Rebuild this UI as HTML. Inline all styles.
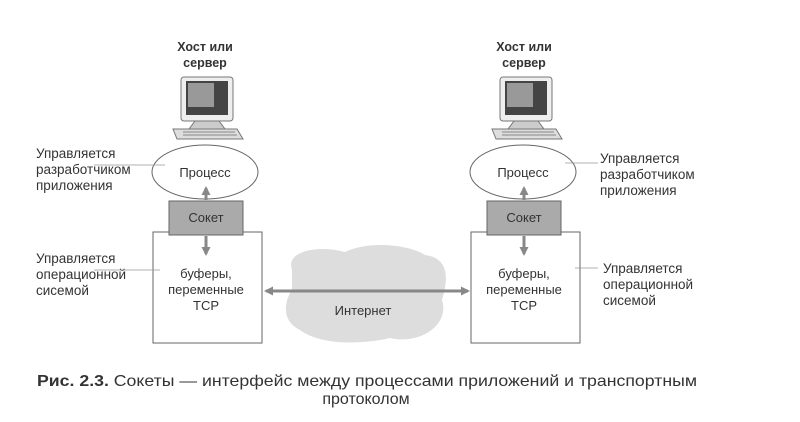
<!DOCTYPE html>
<html><head><meta charset="utf-8"><style>
body{margin:0;background:#fff;width:800px;height:417px;overflow:hidden}
text{font-family:"Liberation Sans",sans-serif;fill:#333}
</style></head><body>
<svg width="800" height="417" viewBox="0 0 800 417">
<defs>
<marker id="a" markerWidth="9" markerHeight="9" refX="7" refY="4.5" orient="auto-start-reverse" markerUnits="userSpaceOnUse"><path d="M0,0 L9,4.5 L0,9 Z" fill="#888"/></marker>
<g id="pc">
<rect x="0" y="0" width="52" height="44" rx="3" fill="#eee" stroke="#777"/>
<rect x="5" y="4" width="42" height="34" fill="#444"/>
<rect x="7" y="6" width="26" height="24" fill="#999"/>
<path d="M14,44 L38,44 L44,52 L8,52 Z" fill="#ccc" stroke="#777"/>
<path d="M-8,52 L56,52 L62,62 L-4,62 Z" fill="#ddd" stroke="#777"/>
<line x1="2" y1="55" x2="54" y2="55" stroke="#888"/><line x1="2" y1="58" x2="56" y2="58" stroke="#888"/>
</g>
</defs>
<text x="205" y="51" font-size="12.5" font-weight="bold" text-anchor="middle">Хост или</text>
<text x="205" y="67" font-size="12.5" font-weight="bold" text-anchor="middle">сервер</text>
<text x="524" y="51" font-size="12.5" font-weight="bold" text-anchor="middle">Хост или</text>
<text x="524" y="67" font-size="12.5" font-weight="bold" text-anchor="middle">сервер</text>
<use href="#pc" x="181" y="77"/>
<use href="#pc" x="500" y="77"/>
<path d="M292,270 C285,250 320,245 345,252 C370,240 410,245 425,255 C450,258 448,280 442,300 C450,325 420,345 390,338 C360,345 320,345 300,330 C280,320 285,300 292,290 Z" fill="#ddd"/>
<line x1="266" y1="291" x2="468" y2="291" stroke="#888" stroke-width="3" marker-end="url(#a)" marker-start="url(#a)"/>
<text x="363" y="315" font-size="13" text-anchor="middle">Интернет</text>
<g id="L">
<ellipse cx="205" cy="172" rx="53" ry="27" fill="#fff" stroke="#666"/>
<text x="205" y="177" font-size="13" text-anchor="middle">Процесс</text>
<rect x="153" y="232" width="109" height="111" fill="#fff" stroke="#666"/>
<rect x="169" y="201" width="74" height="34" fill="#aaa" stroke="#666"/>
<text x="206" y="222" font-size="13" text-anchor="middle">Сокет</text>
<line x1="206" y1="200" x2="206" y2="188" stroke="#888" stroke-width="3" marker-end="url(#a)"/>
<line x1="206" y1="236" x2="206" y2="254" stroke="#888" stroke-width="3" marker-end="url(#a)"/>
<text x="206" y="278" font-size="13" text-anchor="middle">буферы,</text>
<text x="206" y="294" font-size="13" text-anchor="middle">переменные</text>
<text x="206" y="310" font-size="13" text-anchor="middle">TCP</text>
</g>
<use href="#L" x="318"/>
<g font-size="13.5">
<text x="36" y="158">Управляется</text><text x="36" y="174">разработчиком</text><text x="36" y="190">приложения</text>
<text x="36" y="263">Управляется</text><text x="36" y="279">операционной</text><text x="36" y="295">сисемой</text>
<text x="600" y="163">Управляется</text><text x="600" y="179">разработчиком</text><text x="600" y="195">приложения</text>
<text x="603" y="273">Управляется</text><text x="603" y="289">операционной</text><text x="603" y="305">сисемой</text>
</g>
<g stroke="#999" stroke-width="0.8">
<line x1="94" y1="165" x2="165" y2="165"/><line x1="94" y1="270" x2="160" y2="270"/>
<line x1="565" y1="163" x2="598" y2="163"/><line x1="575" y1="268" x2="598" y2="268"/>
</g>
<text x="37" y="386" font-size="16" textLength="660" lengthAdjust="spacingAndGlyphs"><tspan font-weight="bold">Рис. 2.3.</tspan> Сокеты — интерфейс между процессами приложений и транспортным</text>
<text x="366" y="404" font-size="16" text-anchor="middle">протоколом</text>
</svg>
</body></html>
